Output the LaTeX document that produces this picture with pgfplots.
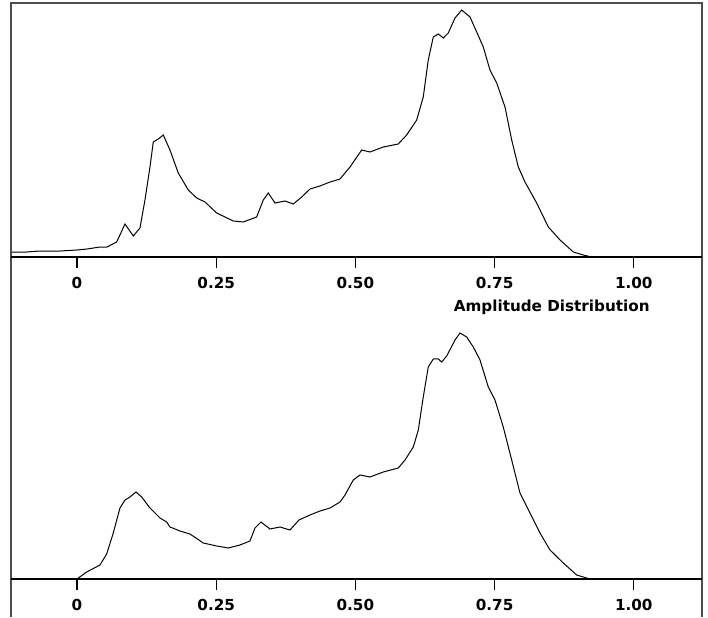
\documentclass[border=0pt]{standalone}
\usepackage{pgfplots}
\pgfplotsset{compat=1.18}
\usepackage{fontspec}
\setmainfont{DejaVu Sans}

% amplitude distributions, y in pixel heights above the baseline
\pgfplotstableread{
x h
-0.1167 5
-0.0900 5
-0.0665 6
-0.0300 6
0.0000 7
0.0180 8
0.0413 10
0.0539 10
0.0713 15
0.0862 33
0.1011 21
0.1131 29
0.1221 57
0.1311 90
0.1370 115
0.1460 118
0.1550 122
0.1670 107
0.1819 84
0.1999 67
0.2150 59
0.2299 55
0.2509 44
0.2807 36
0.2987 35
0.3227 40
0.3346 57
0.3436 64
0.3556 54
0.3736 56
0.3885 53
0.4036 60
0.4185 68
0.4364 71
0.4544 75
0.4724 78
0.4903 90
0.5113 107
0.5262 105
0.5501 110
0.5770 113
0.5921 122
0.6101 137
0.6219 160
0.6309 197
0.6399 220
0.6489 223
0.6579 219
0.6668 224
0.6789 239
0.6909 247
0.7058 240
0.7179 225
0.7297 210
0.7417 187
0.7538 174
0.7687 150
0.7807 117
0.7926 90
0.8046 75
0.8256 54
0.8465 30
0.8675 17
0.8914 5
0.9093 2
0.9244 0
}\toptable

\pgfplotstableread{
x h
0.0000 0
0.0174 7
0.0413 14
0.0533 25
0.0652 46
0.0772 71
0.0862 79
0.0952 82
0.1060 87
0.1162 82
0.1311 71
0.1491 61
0.1611 57
0.1670 52
0.1850 48
0.2029 45
0.2268 36
0.2509 33
0.2717 31
0.2927 34
0.3107 38
0.3197 51
0.3305 57
0.3466 50
0.3646 52
0.3825 49
0.3987 59
0.4185 64
0.4364 68
0.4544 71
0.4724 77
0.4813 84
0.4962 99
0.5083 104
0.5262 102
0.5501 107
0.5770 111
0.5891 119
0.6040 132
0.6130 149
0.6219 182
0.6309 212
0.6399 220
0.6489 220
0.6550 217
0.6640 223
0.6789 239
0.6879 246
0.6999 242
0.7117 232
0.7238 219
0.7387 192
0.7507 179
0.7656 152
0.7807 119
0.7956 86
0.8136 66
0.8315 46
0.8495 29
0.8734 16
0.8974 4
0.9213 0
}\bottomtable

\pgfplotsset{
  ampl/.style={
    scale only axis,
    width=345.5pt, height=127pt,
    xmin=-0.1185, xmax=1.1225,
    ymin=0, ymax=254,
    axis x line*=bottom,
    hide y axis,
    x axis line style={line width=0.7pt},
    xtick={0,0.25,0.5,0.75,1},
    xticklabels={0,0.25,0.50,0.75,1.00},
    tick align=outside,
    major tick length=5.5pt,
    every tick/.style={line width=0.6pt, black},
    xticklabel style={font=\bfseries\fontsize{7.6}{9}\selectfont, inner sep=2pt, yshift=-2.5pt},
    clip=false,
  }
}

\begin{document}
\begin{tikzpicture}
\path[use as bounding box] (0,0) rectangle (354pt,308.5pt);
\draw[line width=0.8pt, black!70] (5.5pt,0) -- (5.5pt,307pt) -- (351pt,307pt) -- (351pt,0);

\begin{axis}[ampl, anchor=south west, at={(5.5pt,180pt)}]
  \addplot[black, line width=0.5pt] table[x=x, y=h] {\toptable};
\end{axis}

\node[anchor=east, inner sep=0pt, font=\bfseries\fontsize{7.6}{9}\selectfont] at (325pt,155pt) {Amplitude Distribution};

\begin{axis}[ampl, anchor=south west, at={(5.5pt,19pt)}]
  \addplot[black, line width=0.5pt] table[x=x, y=h] {\bottomtable};
\end{axis}
\end{tikzpicture}
\end{document}
